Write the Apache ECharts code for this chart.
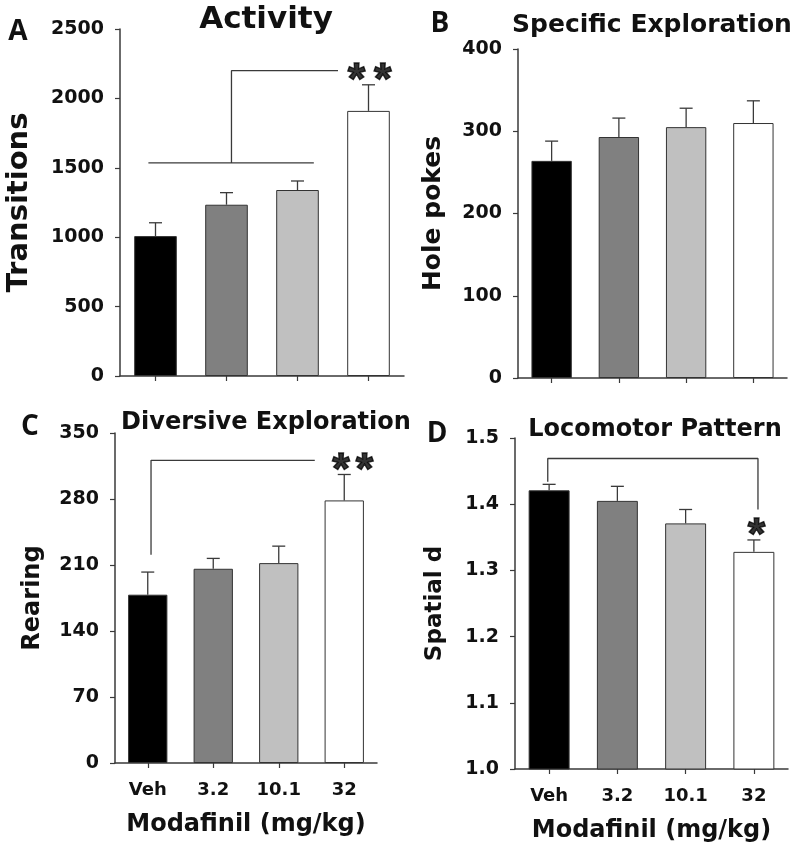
<!DOCTYPE html>
<html><head><meta charset="utf-8">
<script src="https://cdn.jsdelivr.net/npm/echarts@6/dist/echarts.min.js"></script>
<style>html,body{margin:0;padding:0;background:#fff}#c{width:800px;height:851px}</style>
</head><body><div id="c"></div>
<script>
// ---- data ----
const categories = ['Veh', '3.2', '10.1', '32'];

const activityMean = [1008, 1234, 1340, 1910];
const activitySem  = [96, 87, 65, 188];

const holeMean = [264, 293, 305, 310];
const holeSem  = [24, 23, 23, 27];

const rearMean = [178.5, 206, 212, 278.5];
const rearSem  = [24, 11, 18, 27.5];

const spatialMean = [1.421, 1.405, 1.371, 1.328];
const spatialSem  = [0.009, 0.022, 0.021, 0.018];

// y axis scales [min, max, interval]
const yScaleA = [0, 2500, 500];
const yScaleB = [0, 400, 100];
const yScaleC = [0, 350, 70];
const yScaleD = [1.0, 1.5, 0.1];

// significance brackets (category-index x, value y)
const bracketA = [[[-0.1, 1535], [2.23, 1535]], [[1.07, 1535], [1.07, 2200], [2.57, 2200]]];
const bracketC = [[[0.05, 221], [0.05, 321], [2.55, 321]]];
const bracketD = [[[-0.02, 1.434], [-0.02, 1.469], [3.06, 1.469], [3.06, 1.392]]];
const starsA = [[2.83, 2200], [3.2, 2200]];
const starsC = [[2.95, 321], [3.31, 321]];
const starsD = [[3.04, 1.368]];

const panelTitles = ['Activity', 'Specific Exploration', 'Diversive Exploration', 'Locomotor Pattern'];
const panelLetters = ['A', 'B', 'C', 'D'];
const yNames = ['Transitions', 'Hole pokes', 'Rearing', 'Spatial d'];
const xName = 'Modafinil (mg/kg)';

// ---- styles / layout ----
const barColors = ['#000000', '#808080', '#c0c0c0', '#ffffff'];
const grids = [
  {left: 120, top: 29, width: 284, height: 347},
  {left: 518, top: 49, width: 269, height: 329},
  {left: 115, top: 433, width: 262, height: 330},
  {left: 515, top: 438, width: 273, height: 331}
];
const yNameGaps = [86, 72, 70, 68];
const yNameSizes = [29, 25, 24, 23];
const lineCol = '#3a3a3a';
const F = 'DejaVu Sans';
const FL = 'Liberation Sans';

const means = [activityMean, holeMean, rearMean, spatialMean];
const sems = [activitySem, holeSem, rearSem, spatialSem];
const scales = [yScaleA, yScaleB, yScaleC, yScaleD];
const brackets = [bracketA, [], bracketC, bracketD];
const stars = [starsA, [], starsC, starsD];

const xAxes = [], yAxes = [], series = [];
for (let i = 0; i < 4; i++) {
  const showX = i >= 2;
  xAxes.push({
    type: 'category', gridIndex: i, data: categories,
    axisLine: {onZero: false, lineStyle: {color: lineCol, width: 1.5}},
    axisTick: {show: true, alignWithLabel: true, length: 5, lineStyle: {color: lineCol, width: 1.2}},
    axisLabel: {show: showX, margin: 18, fontFamily: F, fontWeight: 'bold', fontSize: 18, color: '#111'},
    name: showX ? xName : '', nameLocation: 'middle', nameGap: 50,
    nameTextStyle: {fontFamily: F, fontWeight: 'bold', fontSize: 24, color: '#111'}
  });
}
for (let i = 0; i < 4; i++) {
  xAxes.push({type: 'value', gridIndex: i, min: -0.5, max: 3.5, show: false,
    axisLine: {onZero: false}});
}
for (let i = 0; i < 4; i++) {
  const s = scales[i];
  yAxes.push({
    type: 'value', gridIndex: i, min: s[0], max: s[1], interval: s[2],
    axisLine: {show: true, onZero: false, lineStyle: {color: lineCol, width: 1.5}},
    axisTick: {show: true, length: 5, lineStyle: {color: lineCol, width: 1.2}},
    splitLine: {show: false},
    axisLabel: {margin: 16, fontFamily: F, fontWeight: 'bold', fontSize: 19, color: '#111',
      formatter: i === 3 ? (v => v.toFixed(1)) : (v => String(v))},
    name: yNames[i], nameLocation: 'middle', nameGap: yNameGaps[i],
    nameTextStyle: {fontFamily: F, fontWeight: 'bold', fontSize: yNameSizes[i], color: '#111'}
  });
}
for (let i = 0; i < 4; i++) {
  const m = means[i], e = sems[i];
  series.push({
    type: 'bar', xAxisIndex: i, yAxisIndex: i, barWidth: '60%',
    data: m.map((v, k) => ({value: v, itemStyle: {color: barColors[k]}})),
    itemStyle: {borderColor: '#333', borderWidth: 1}, silent: true, z: 2
  });
  series.push({
    type: 'custom', xAxisIndex: i, yAxisIndex: i, z: 3, silent: true,
    data: m.map((v, k) => [k, v, v + e[k]]),
    renderItem: function (params, api) {
      const base = api.coord([api.value(0), api.value(1)]);
      const top = api.coord([api.value(0), api.value(2)]);
      const hw = 6.5;
      return {type: 'group', children: [
        {type: 'line', shape: {x1: base[0], y1: base[1], x2: top[0], y2: top[1]}, style: {stroke: lineCol, lineWidth: 1.3}},
        {type: 'line', shape: {x1: top[0] - hw, y1: top[1], x2: top[0] + hw, y2: top[1]}, style: {stroke: lineCol, lineWidth: 1.3}}
      ]};
    }
  });
  brackets[i].forEach(seg => {
    series.push({
      type: 'line', xAxisIndex: 4 + i, yAxisIndex: i, data: seg, symbol: 'none', silent: true, z: 4,
      lineStyle: {color: lineCol, width: 1.3}, animation: false
    });
  });
  if (stars[i].length) {
    series.push({
      type: 'scatter', xAxisIndex: 4 + i, yAxisIndex: i, data: stars[i], symbolSize: 1, silent: true, z: 5,
      itemStyle: {color: 'rgba(0,0,0,0)'},
      label: {show: true, position: 'inside', formatter: '*', fontFamily: FL, fontWeight: 'bold',
        fontSize: 45, color: '#000', textBorderColor: '#000', textBorderWidth: 1.4, offset: [0, 11]}
    });
  }
}

const titlePos = [[266, 20, 31], [652, 25, 25], [266, 423, 24], [655, 430, 24]];
const letterPos = [[18, 32], [440, 24], [30, 427], [437, 434]];
const graphics = [];
for (let i = 0; i < 4; i++) {
  graphics.push({type: 'text', x: titlePos[i][0], y: titlePos[i][1],
    style: {text: panelTitles[i], fill: '#111', font: 'bold ' + titlePos[i][2] + 'px "' + F + '"', textAlign: 'center', textVerticalAlign: 'middle'}});
  graphics.push({type: 'text', x: letterPos[i][0], y: letterPos[i][1],
    style: {text: panelLetters[i], fill: '#111', font: 'bold 28px "Open Sans"', textAlign: 'center', textVerticalAlign: 'middle'}});
}

const chart = echarts.init(document.getElementById('c'), null, {renderer: 'canvas'});
chart.setOption({
  animation: false,
  backgroundColor: '#ffffff',
  grid: grids,
  xAxis: xAxes,
  yAxis: yAxes,
  series: series,
  graphic: graphics
});
</script></body></html>
